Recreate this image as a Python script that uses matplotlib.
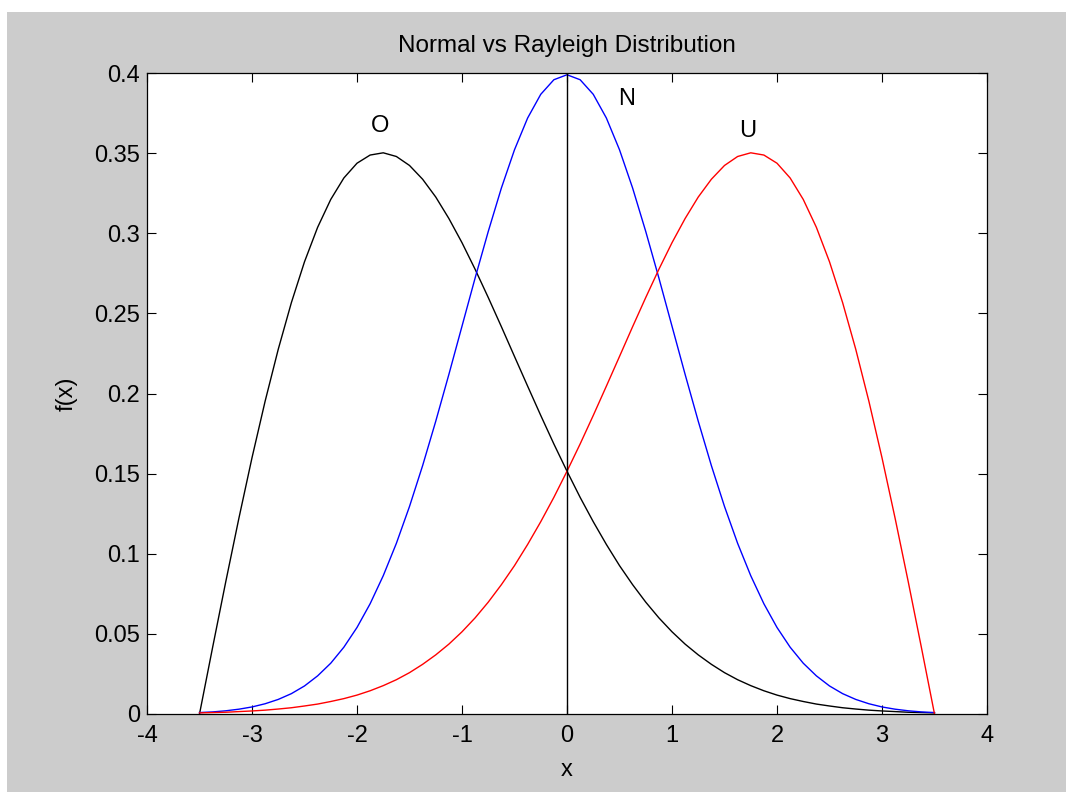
import matplotlib
matplotlib.use("Agg")
from matplotlib import pyplot as plt
from matplotlib.patches import Rectangle

# x grid shared by all three curves (step 0.125)
x = [-3.5, -3.375, -3.25, -3.125, -3.0, -2.875, -2.75, -2.625, -2.5, -2.375,
     -2.25, -2.125, -2.0, -1.875, -1.75, -1.625, -1.5, -1.375, -1.25, -1.125,
     -1.0, -0.875, -0.75, -0.625, -0.5, -0.375, -0.25, -0.125, 0.0, 0.125,
     0.25, 0.375, 0.5, 0.625, 0.75, 0.875, 1.0, 1.125, 1.25, 1.375, 1.5,
     1.625, 1.75, 1.875, 2.0, 2.125, 2.25, 2.375, 2.5, 2.625, 2.75, 2.875,
     3.0, 3.125, 3.25, 3.375, 3.5]

# O curve (black, left-skewed)
o_vals = [0.0, 0.0416, 0.0825, 0.1221, 0.1599, 0.1952, 0.2276, 0.2567,
          0.2822, 0.3037, 0.3211, 0.3345, 0.3437, 0.3488, 0.3502, 0.3479,
          0.3423, 0.3337, 0.3226, 0.3092, 0.2941, 0.2775, 0.2599, 0.2417,
          0.2231, 0.2046, 0.1863, 0.1685, 0.1515, 0.1352, 0.1200, 0.1058,
          0.0926, 0.0807, 0.0698, 0.0600, 0.0513, 0.0436, 0.0369, 0.0310,
          0.0258, 0.0214, 0.0177, 0.0145, 0.0118, 0.0096, 0.0078, 0.0062,
          0.0050, 0.0039, 0.0031, 0.0024, 0.0019, 0.0015, 0.0011, 0.0009,
          0.0007]

# N curve (blue, normal)
n_vals = [0.0009, 0.0013, 0.0020, 0.0030, 0.0044, 0.0064, 0.0091, 0.0127,
          0.0175, 0.0238, 0.0317, 0.0417, 0.0540, 0.0688, 0.0863, 0.1065,
          0.1295, 0.1550, 0.1827, 0.2119, 0.2420, 0.2721, 0.3011, 0.3282,
          0.3521, 0.3719, 0.3867, 0.3958, 0.3989, 0.3958, 0.3867, 0.3719,
          0.3521, 0.3282, 0.3011, 0.2721, 0.2420, 0.2119, 0.1827, 0.1550,
          0.1295, 0.1065, 0.0863, 0.0688, 0.0540, 0.0417, 0.0317, 0.0238,
          0.0175, 0.0127, 0.0091, 0.0064, 0.0044, 0.0030, 0.0020, 0.0013,
          0.0009]

# U curve (red, right-skewed)
u_vals = [0.0007, 0.0009, 0.0011, 0.0015, 0.0019, 0.0024, 0.0031, 0.0039,
          0.0050, 0.0062, 0.0078, 0.0096, 0.0118, 0.0145, 0.0177, 0.0214,
          0.0258, 0.0310, 0.0369, 0.0436, 0.0513, 0.0600, 0.0698, 0.0807,
          0.0926, 0.1058, 0.1200, 0.1352, 0.1515, 0.1685, 0.1863, 0.2046,
          0.2231, 0.2417, 0.2599, 0.2775, 0.2941, 0.3092, 0.3226, 0.3337,
          0.3423, 0.3479, 0.3502, 0.3488, 0.3437, 0.3345, 0.3211, 0.3037,
          0.2822, 0.2567, 0.2276, 0.1952, 0.1599, 0.1221, 0.0825, 0.0416,
          0.0]

labels = ["O", "N", "U"]
label_pos = [(-1.78, 0.367), (0.57, 0.384), (1.72, 0.364)]

xticks = [-4, -3, -2, -1, 0, 1, 2, 3, 4]
yticks = [0, 0.05, 0.1, 0.15, 0.2, 0.25, 0.3, 0.35, 0.4]
ytick_labels = ["0", "0.05", "0.1", "0.15", "0.2", "0.25", "0.3", "0.35", "0.4"]

plt.rcParams["font.family"] = ["Liberation Sans", "DejaVu Sans"]

W, H = 1074, 792
fig = plt.figure(figsize=(W / 100, H / 100), dpi=100, facecolor="white")
# gray MATLAB figure background
bg = Rectangle((7 / W, 0), (1066 - 7) / W, 1 - 12 / H,
               transform=fig.transFigure, facecolor="#cccccc",
               edgecolor="none", zorder=-10)
fig.add_artist(bg)

ax = fig.add_axes([147 / W, 1 - 714 / H, (987 - 147) / W, (714 - 73) / H])
ax.set_facecolor("white")

ax.plot(x, o_vals, color="black", lw=1.0)
ax.plot(x, n_vals, color="blue", lw=1.0)
ax.plot(x, u_vals, color="red", lw=1.0)
ax.plot([0, 0], [0, 0.4], color="black", lw=1.0)

for lab, (lx, ly) in zip(labels, label_pos):
    ax.text(lx, ly, lab, fontsize=17, ha="center", va="center")

ax.set_xlim(-4, 4)
ax.set_ylim(0, 0.4)
ax.set_xticks(xticks)
ax.set_xticklabels([str(t) for t in xticks])
ax.set_yticks(yticks)
ax.set_yticklabels(ytick_labels)
ax.tick_params(direction="in", length=6.5, width=0.8, top=True, right=True,
               labelsize=17)
ax.tick_params(axis="x", pad=8)
ax.tick_params(axis="y", pad=5)
for s in ax.spines.values():
    s.set_linewidth(0.9)

ax.set_title("Normal vs Rayleigh Distribution", fontsize=17.5,
             y=(714 - 46) / 641, va="center", pad=0)
ax.set_xlabel("x", fontsize=17, va="center")
ax.xaxis.set_label_coords(0.5, (714 - 770) / 641)
ax.set_ylabel("f(x)", fontsize=17, va="center", ha="center")
ax.yaxis.set_label_coords((67 - 147) / 840, 0.5)

fig.savefig("out.png", dpi=100, facecolor=fig.get_facecolor())
